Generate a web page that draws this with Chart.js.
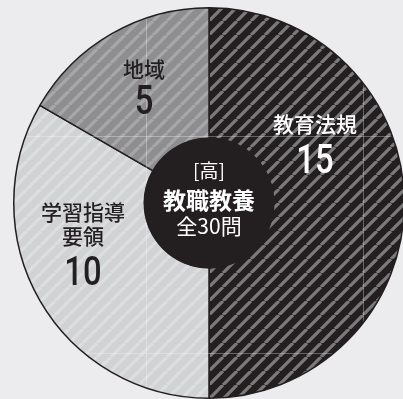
<!DOCTYPE html>
<html>
<head>
<meta charset="utf-8">
<script src="https://cdn.jsdelivr.net/npm/chart.js@4"></script>
<style>
  html, body { margin: 0; padding: 0; width: 403px; height: 399px; overflow: hidden; background: #ececee; }
  #wrap { position: absolute; left: -1px; top: -7px; width: 420px; height: 420px; }
</style>
</head>
<body>
<div id="wrap"><canvas id="pieChart"></canvas></div>
<script>
// data
const categories = ["教育法規", "学習指導要領", "地域"];
const labelLines = [["教育法規"], ["学習指導", "要領"], ["地域"]];
const questionCounts = [15, 10, 5];
const centerLines = ["[高]", "教職教養", "全30問"];

const INK = "#231f20";
const CJK = "'Noto Sans CJK JP', 'Noto Sans', sans-serif";

// diagonal stripe fill
function stripes(base, line, size, width) {
  const c = document.createElement("canvas");
  c.width = size;
  c.height = size;
  const g = c.getContext("2d");
  g.fillStyle = base;
  g.fillRect(0, 0, size, size);
  g.strokeStyle = line;
  g.lineWidth = width;
  g.beginPath();
  for (let k = -1; k <= 1; k++) {
    g.moveTo(k * size, size);
    g.lineTo(k * size + size, 0);
  }
  g.stroke();
  return g.createPattern(c, "repeat");
}

const fills = [
  stripes(INK, "#7a7a7a", 14, 3.3),
  stripes("#d1d2d4", "#dddee0", 14, 3.3),
  stripes("#8e8e90", "#a7a7a9", 14, 3.3)
];
const textColors = ["#ffffff", INK, INK];
// label placement: offset of the first name line from the pie centre, and of the number
const labelSpots = [
  { dx: 106, dy: -79, numDy: -42 },
  { dx: -126, dy: 9, numDy: 70 },
  { dx: -65, dy: -134, numDy: -101 }
];

const overlay = {
  id: "overlay",
  afterDatasetsDraw(chart) {
    const ctx = chart.ctx;
    const arc = chart.getDatasetMeta(0).data[0];
    const cx = arc.x, cy = arc.y, r = arc.outerRadius;
    // faint layout guides
    ctx.save();
    ctx.beginPath();
    ctx.arc(cx, cy, r - 1, 0, Math.PI * 2);
    ctx.clip();
    ctx.strokeStyle = "rgba(255,255,255,0.3)";
    ctx.lineWidth = 1;
    ctx.beginPath();
    [-63, 154].forEach(d => { ctx.moveTo(cx + d + 0.5, 0); ctx.lineTo(cx + d + 0.5, chart.height); });
    [-67, 150].forEach(d => { ctx.moveTo(0, cy + d + 0.5); ctx.lineTo(chart.width, cy + d + 0.5); });
    ctx.stroke();
    ctx.restore();
  },
  afterDraw(chart) {
    const ctx = chart.ctx;
    const meta = chart.getDatasetMeta(0);
    const arc = meta.data[0];
    const cx = arc.x, cy = arc.y;

    // centre disc
    ctx.save();
    ctx.fillStyle = INK;
    ctx.beginPath();
    ctx.arc(cx, cy, arc.innerRadius + 1, 0, Math.PI * 2);
    ctx.fill();

    ctx.textAlign = "center";
    ctx.textBaseline = "middle";
    ctx.fillStyle = "#ffffff";
    ctx.font = "400 19px " + CJK;
    ctx.fillText(centerLines[0], cx, cy - 32);
    ctx.font = "700 23px " + CJK;
    ctx.fillText(centerLines[1], cx, cy - 3);
    ctx.font = "400 21px " + CJK;
    ctx.fillText(centerLines[2], cx, cy + 23);

    // slice labels
    questionCounts.forEach((v, i) => {
      const s = labelSpots[i];
      ctx.fillStyle = textColors[i];
      ctx.font = "500 21px " + CJK;
      labelLines[i].forEach((t, j) => {
        ctx.fillText(t, cx + s.dx, cy + s.dy + j * 24);
      });
      ctx.save();
      ctx.translate(cx + s.dx, cy + s.numDy);
      ctx.scale(0.8, 1);
      ctx.font = "500 41px Roboto, sans-serif";
      ctx.fillText(String(v), 0, 2);
      ctx.restore();
    });
    ctx.restore();
  }
};

new Chart(document.getElementById("pieChart"), {
  type: "doughnut",
  data: {
    labels: categories,
    datasets: [{
      data: questionCounts,
      backgroundColor: fills,
      borderColor: INK,
      borderWidth: 1.5
    }]
  },
  options: {
    responsive: true,
    maintainAspectRatio: false,
    animation: false,
    events: [],
    cutout: "33%",
    layout: { padding: 14 },
    plugins: {
      legend: { display: false },
      tooltip: { enabled: false }
    }
  },
  plugins: [overlay]
});
</script>
</body>
</html>
